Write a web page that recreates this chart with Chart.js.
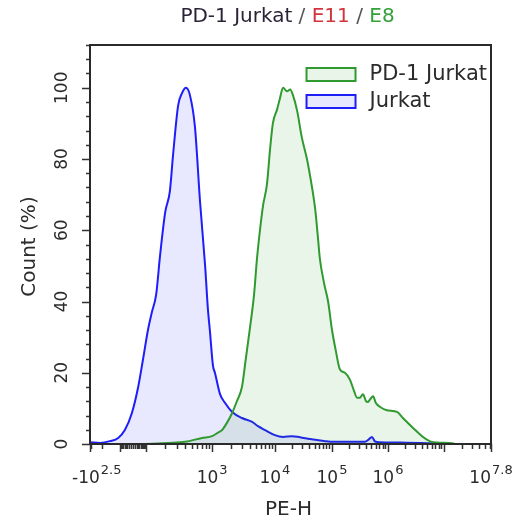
<!DOCTYPE html>
<html>
<head>
<meta charset="utf-8">
<script src="https://cdn.jsdelivr.net/npm/chart.js@4"></script>
<style>
  html, body { margin: 0; padding: 0; background: #fff; }
</style>
</head>
<body>
<canvas id="histChart" width="517" height="523"></canvas>
<script>
// histogram bins are in display channels (0..1024 across the PE-H axis)
const jurkatCh  = [0, 26, 51, 72, 89, 107, 123, 135, 148, 158, 169, 179, 192, 204, 212, 225, 235, 245, 255, 268,
  281, 294, 301, 306, 314, 319, 332, 345, 363, 388, 414, 429, 447, 472, 493, 516, 536, 562, 580, 600,
  621, 664, 702, 712, 720, 728, 741, 792, 843, 876, 912];
const jurkatPct = [0.5, 0.3, 0.8, 1.7, 3.9, 8.7, 16, 23.5, 32, 37, 42, 53, 65, 71, 81, 95, 98.5, 100, 98, 89,
  68, 50, 38, 32, 22, 20, 14, 11.5, 9, 7.3, 6.2, 5, 3.9, 2.5, 2, 2.2, 1.9, 1.4, 1.1, 0.8,
  0.6, 0.6, 0.6, 1.3, 2, 0.7, 0.5, 0.4, 0.3, 0.2, 0];

const pd1Ch  = [140, 199, 243, 286, 312, 327, 337, 350, 363, 375, 388, 398, 409, 419, 426, 434, 442, 452, 460, 467,
  478, 485, 493, 503, 511, 518, 529, 541, 554, 567, 575, 582, 587, 598, 608, 618, 628, 638, 651, 664,
  674, 682, 689, 697, 705, 710, 715, 723, 730, 741, 758, 784, 799, 825, 850, 873, 919, 932];
const pd1Pct = [0, 0.3, 0.6, 1.7, 2.2, 3.2, 3.9, 6, 8.7, 12, 16, 24, 33, 42, 51.5, 60, 67, 73, 83, 90,
  94, 97, 100, 99, 99.5, 98, 93.5, 86, 80, 72, 66, 58, 52, 45, 40, 32, 26, 21, 20, 18,
  15, 13, 13, 14, 12, 11.8, 12.5, 13.4, 11.5, 10.4, 9.5, 9, 7.3, 4.5, 2, 0.6, 0.3, 0];

// PE-H axis calibration: value -> channel
const axisVals = [-316.2, -100, 0, 100, 1e3, 1e4, 1e5, 1e6, 1e7, 63095734];
const axisChs  = [0, 77, 115, 143, 312, 472, 618, 761, 904, 1024];

const majorVals = [-316.2, 1e3, 1e4, 1e5, 1e6, 63095734];
const majorExps = ['2.5', '3', '4', '5', '6', '7.8'];
const majorSign = ['-', '', '', '', '', ''];

const yTicks = [0, 20, 40, 60, 80, 100];

function sv(v) { return Math.asinh(v / 50); }
function chOf(v) {
  const s = sv(v);
  for (let i = 0; i < axisVals.length - 1; i++) {
    const s0 = sv(axisVals[i]), s1 = sv(axisVals[i + 1]);
    if (s >= s0 && s <= s1) {
      return axisChs[i] + (s - s0) / (s1 - s0) * (axisChs[i + 1] - axisChs[i]);
    }
  }
  return null;
}

// long ticks and short ticks on the PE-H axis
const longTicks = [-316.2, -100, 100, 1e3, 1e4, 1e5, 1e6, 1e7, 63095734];
const shortTicks = [-300, -200];
for (let k = -90; k <= 90; k += 10) if (k !== 0) shortTicks.push(k);
shortTicks.push(0);
for (let e = 2; e <= 7; e++) for (let m = 2; m <= 9; m++) {
  const v = m * Math.pow(10, e);
  if (v < 63095734) shortTicks.push(v);
}

const FONT = '"DejaVu Sans", sans-serif';
const GREEN = '#2f9a2f', BLUE = '#1e1ef8';

const flowAxes = {
  id: 'flowAxes',
  afterDraw(chart) {
    const ctx = chart.ctx, a = chart.chartArea;
    const xs = chart.scales.x, ys = chart.scales.y;
    ctx.save();

    // y ticks
    ctx.strokeStyle = '#333';
    ctx.lineWidth = 1.5;
    ctx.beginPath();
    for (let v = 0; v <= 112; v += 4) {
      const y = Math.round(ys.getPixelForValue(v)) + 0.5;
      const len = v % 20 === 0 ? 8 : 4;
      ctx.moveTo(a.left - len, y); ctx.lineTo(a.left, y);
    }
    // x ticks
    longTicks.forEach(v => {
      const x = Math.round(xs.getPixelForValue(chOf(v))) + 0.5;
      ctx.moveTo(x, a.bottom); ctx.lineTo(x, a.bottom + 8);
    });
    shortTicks.forEach(v => {
      const x = Math.round(xs.getPixelForValue(chOf(v))) + 0.5;
      ctx.moveTo(x, a.bottom); ctx.lineTo(x, a.bottom + 5);
    });
    ctx.stroke();

    // frame
    ctx.strokeStyle = '#2a2a2a';
    ctx.lineWidth = 2;
    ctx.strokeRect(a.left, a.top, a.right - a.left, a.bottom - a.top);

    // y tick labels (rotated)
    ctx.fillStyle = '#2b2b2b';
    ctx.font = '17px ' + FONT;
    ctx.textAlign = 'center';
    ctx.textBaseline = 'middle';
    yTicks.forEach(v => {
      ctx.save();
      ctx.translate(a.left - 27, ys.getPixelForValue(v));
      ctx.rotate(-Math.PI / 2);
      ctx.fillText(String(v), 0, 0);
      ctx.restore();
    });

    // x tick labels with exponents
    ctx.textAlign = 'left';
    ctx.textBaseline = 'alphabetic';
    majorVals.forEach((v, i) => {
      const base = majorSign[i] + '10';
      ctx.font = '17px ' + FONT;
      const wb = ctx.measureText(base).width;
      ctx.font = '13px ' + FONT;
      const we = ctx.measureText(majorExps[i]).width;
      const w = wb + 1 + we;
      let x0 = xs.getPixelForValue(chOf(v)) - w / 2;
      x0 = Math.max(x0, a.left - 18);
      x0 = Math.min(x0, chart.width - 2 - w);
      ctx.font = '17px ' + FONT;
      ctx.fillText(base, x0, a.bottom + 39);
      ctx.font = '13px ' + FONT;
      ctx.fillText(majorExps[i], x0 + wb + 1, a.bottom + 30);
    });

    // axis titles
    ctx.font = '20px ' + FONT;
    ctx.textAlign = 'center';
    ctx.textBaseline = 'middle';
    ctx.fillText('PE-H', (a.left + a.right) / 2 - 2, a.bottom + 66);
    ctx.save();
    ctx.translate(30, (a.top + a.bottom) / 2 + 2);
    ctx.rotate(-Math.PI / 2);
    ctx.fillText('Count (%)', 0, 0);
    ctx.restore();

    // multi-coloured title
    const parts = [['PD-1 Jurkat', '#2a2236'], [' / ', '#555'], ['E11', '#d2343c'], [' / ', '#555'], ['E8', '#35a03a']];
    ctx.font = '20px ' + FONT;
    ctx.textAlign = 'left';
    let tw = 0;
    parts.forEach(p => { tw += ctx.measureText(p[0]).width; });
    let tx = (a.left + a.right) / 2 - 3 - tw / 2;
    parts.forEach(p => {
      ctx.fillStyle = p[1];
      ctx.fillText(p[0], tx, 17);
      tx += ctx.measureText(p[0]).width;
    });

    // legend in the plot
    ctx.font = '21px ' + FONT;
    const sets = chart.data.datasets;
    let lw = 0;
    sets.forEach(d => { lw = Math.max(lw, ctx.measureText(d.label).width); });
    const textX = a.right - 4 - lw;
    sets.forEach((d, i) => {
      const cy = a.top + 29 + i * 27;
      ctx.fillStyle = d.backgroundColor;
      ctx.fillRect(textX - 63, cy - 6, 49, 13);
      ctx.strokeStyle = d.borderColor;
      ctx.lineWidth = 2;
      ctx.strokeRect(textX - 63, cy - 6, 49, 13);
      ctx.fillStyle = '#2b2b2b';
      ctx.fillText(d.label, textX, cy + 1);
    });

    ctx.restore();
  }
};

const ctx = document.getElementById('histChart').getContext('2d');
const histChart = new Chart(ctx, {
  type: 'line',
  data: {
    datasets: [{
      label: 'PD-1 Jurkat',
      data: pd1Ch.map((c, i) => ({ x: c, y: pd1Pct[i] })),
      borderColor: GREEN,
      backgroundColor: 'rgba(47, 154, 47, 0.1)',
      borderWidth: 2,
      fill: 'origin',
      pointRadius: 0,
      cubicInterpolationMode: 'monotone',
    }, {
      label: 'Jurkat',
      data: jurkatCh.map((c, i) => ({ x: c, y: jurkatPct[i] })),
      borderColor: BLUE,
      backgroundColor: 'rgba(30, 30, 248, 0.1)',
      borderWidth: 2,
      fill: 'origin',
      pointRadius: 0,
      cubicInterpolationMode: 'monotone',
    }],
  },
  options: {
    responsive: false,
    animation: false,
    devicePixelRatio: 1,
    layout: { padding: { left: 90, right: 26, top: 45, bottom: 79 } },
    plugins: { legend: { display: false }, tooltip: { enabled: false } },
    scales: {
      x: { type: 'linear', min: 0, max: 1024, display: false },
      y: { type: 'linear', min: 0, max: 112, display: false },
    },
  },
  plugins: [flowAxes],
});
</script>
</body>
</html>
